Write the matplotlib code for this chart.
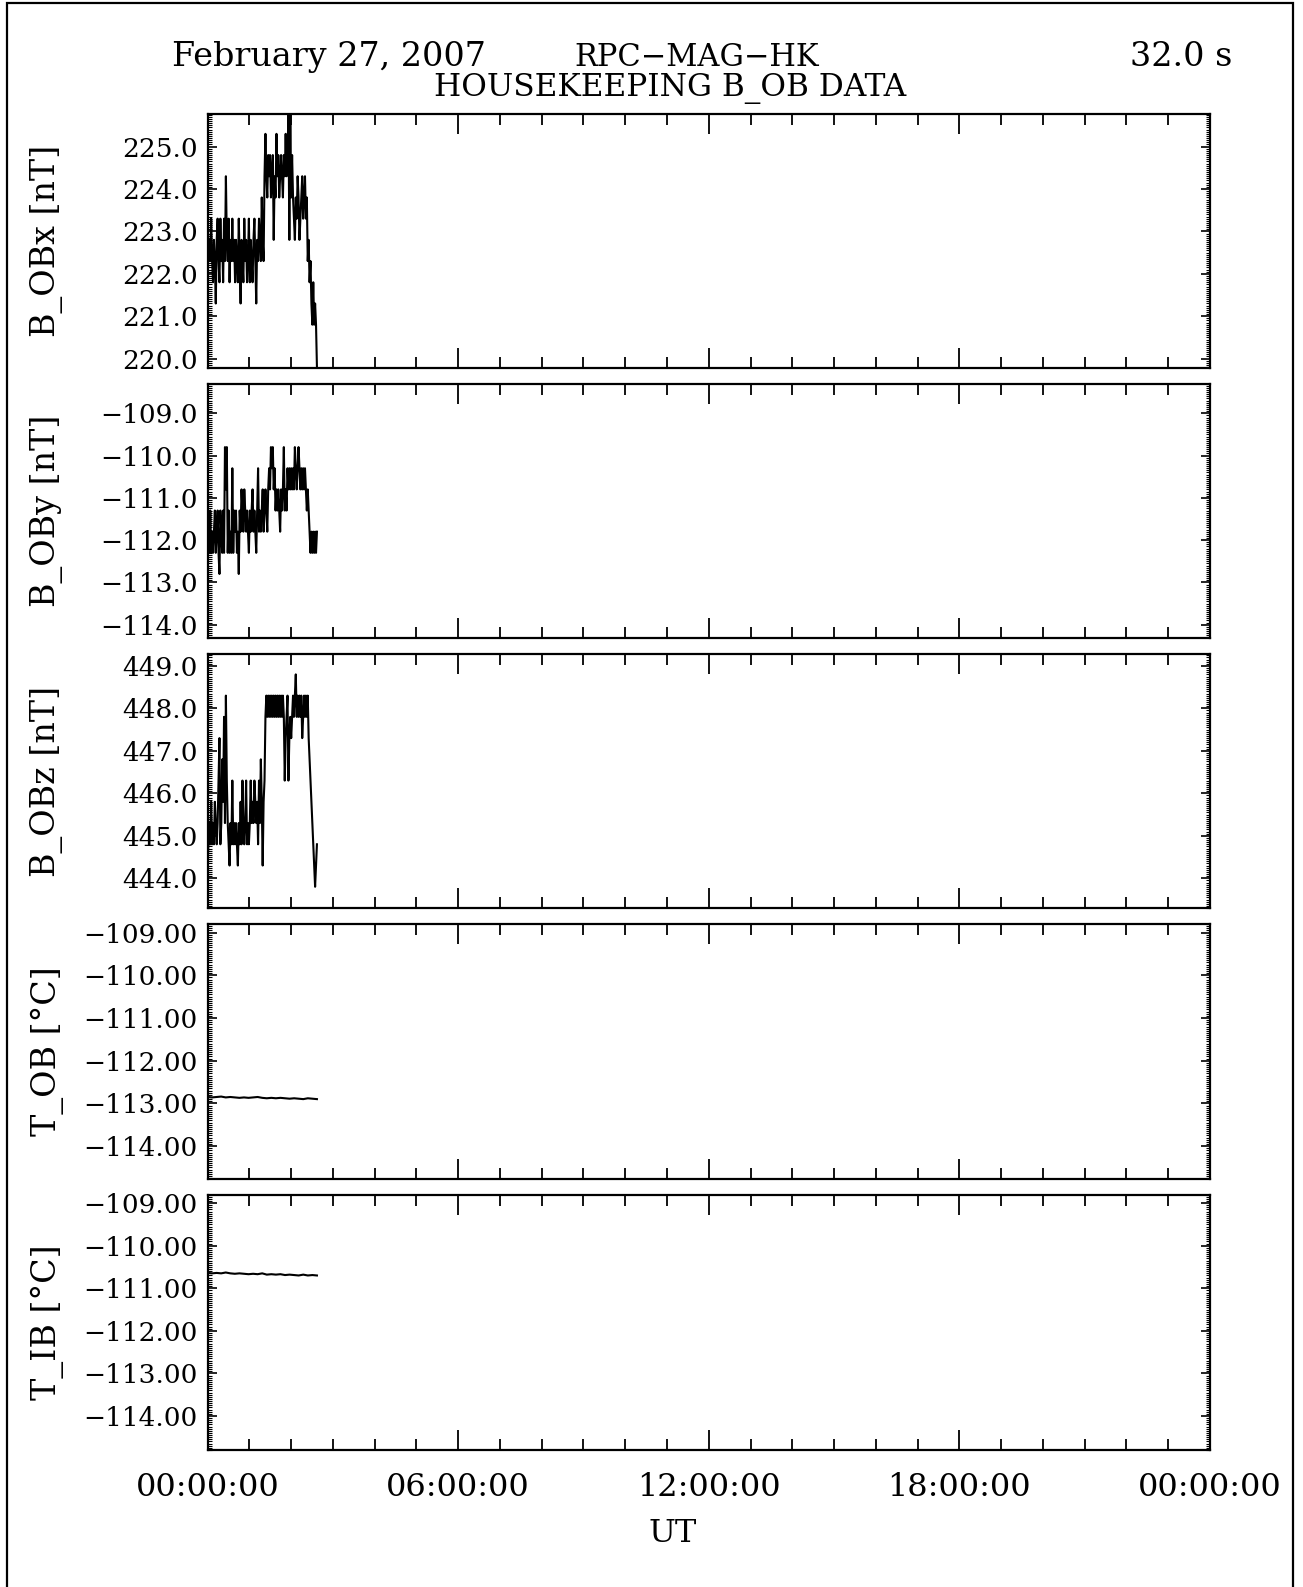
"""
RPC-MAG housekeeping plot: B_OB field components and sensor temperatures.
"""

import numpy as np
import matplotlib.pyplot as plt
from matplotlib.ticker import MultipleLocator, FixedLocator, FuncFormatter
from matplotlib.patches import Rectangle

plt.rcParams['font.family'] = ['DejaVu Serif', 'DejaVu Sans']

# hours after 00:00 UT where the data stops
END_HOUR = 2.62

# B_OBx [nT]
B_OBX = [
    223.8, 222.3, 222.8, 222.3, 223.3, 222.3, 221.8, 222.8, 222.3, 221.3,
    222.8, 223.3, 222.3, 221.8, 223.3, 222.3, 222.8, 221.8, 223.3, 222.3,
    224.3, 222.8, 222.3, 223.3, 221.8, 222.8, 222.3, 223.3, 222.3, 222.8,
    221.8, 222.8, 222.3, 221.8, 223.3, 222.3, 221.3, 222.8, 222.3, 221.8,
    223.3, 222.3, 222.8, 221.8, 222.3, 223.3, 221.8, 222.8, 222.3, 221.8,
    222.8, 223.3, 222.3, 221.3, 222.8, 222.3, 223.3, 222.8, 222.3, 223.8,
    222.8, 222.3, 224.3, 225.3, 224.3, 223.8, 224.8, 224.3, 224.8, 223.8,
    224.3, 224.8, 222.8, 224.3, 223.8, 225.3, 224.3, 224.8, 223.8, 224.3,
    224.8, 224.3, 223.8, 224.8, 224.3, 225.3, 224.3, 224.8, 225.8, 222.8,
    225.8, 223.8, 224.8, 223.8, 223.3, 222.8, 223.8, 223.3, 224.3, 223.8,
    222.8, 223.3, 223.8, 224.3, 223.3, 223.8, 224.3, 223.3, 223.8, 222.3,
    222.8, 221.8, 222.3, 221.3, 220.8, 221.8, 220.8, 221.3, 220.8, 219.8,
]

# B_OBy [nT]
B_OBY = [
    -112.3, -111.8, -112.3, -111.3, -112.3, -111.8, -112.3, -111.8, -111.3, -112.3,
    -111.8, -111.3, -112.3, -112.8, -111.3, -111.8, -112.3, -111.3, -112.3, -109.8,
    -110.8, -109.8, -112.3, -111.3, -112.3, -111.8, -112.3, -110.3, -112.3, -111.3,
    -111.8, -111.3, -112.3, -111.8, -112.8, -111.3, -111.8, -110.8, -111.3, -111.8,
    -110.8, -111.3, -111.8, -111.3, -111.8, -112.3, -111.3, -111.8, -111.3, -110.8,
    -111.8, -111.3, -111.8, -112.3, -111.3, -110.3, -111.8, -111.3, -111.8, -111.3,
    -110.8, -111.8, -111.3, -110.8, -111.3, -111.8, -110.8, -110.3, -110.8, -109.8,
    -110.3, -109.8, -110.8, -110.3, -111.3, -110.8, -111.3, -110.8, -111.3, -111.8,
    -110.8, -111.3, -110.8, -109.8, -111.3, -110.8, -111.3, -110.3, -110.8, -110.3,
    -110.8, -110.3, -110.8, -110.3, -110.8, -109.8, -110.3, -110.8, -110.3, -109.8,
    -110.3, -110.8, -110.3, -110.8, -110.3, -110.8, -110.3, -110.8, -111.3, -110.8,
    -111.3, -111.8, -112.3, -111.8, -112.3, -111.8, -112.3, -111.8, -112.3, -111.8,
]

# B_OBz [nT]
B_OBZ = [
    444.3, 444.8, 445.3, 444.8, 445.8, 444.8, 445.3, 444.8, 445.8, 445.3,
    444.8, 445.3, 446.3, 447.3, 444.8, 445.3, 446.8, 445.8, 447.8, 445.3,
    448.3, 446.3, 445.3, 444.8, 444.3, 445.3, 444.8, 446.3, 444.8, 445.3,
    444.8, 445.3, 444.8, 444.3, 445.3, 444.8, 445.8, 444.8, 446.3, 445.3,
    444.8, 445.3, 446.3, 444.8, 445.3, 444.8, 445.3, 446.3, 445.3, 445.8,
    445.3, 446.3, 445.8, 445.3, 445.8, 444.8, 446.3, 445.3, 446.8, 445.8,
    444.3, 445.8, 446.3, 447.8, 448.3, 447.8, 448.3, 447.8, 448.3, 447.8,
    448.3, 447.8, 448.3, 447.8, 448.3, 447.8, 448.3, 447.8, 448.3, 447.8,
    448.3, 447.8, 448.3, 447.8, 446.3, 447.3, 447.8, 448.3, 446.3, 447.3,
    447.8, 447.3, 447.8, 448.3, 447.8, 448.3, 448.8, 447.8, 448.3, 447.8,
    448.3, 447.8, 448.3, 447.3, 447.8, 448.3, 447.8, 448.3, 447.8, 448.3,
    447.3, 446.8, 446.3, 445.8, 445.3, 444.8, 444.3, 443.8, 444.3, 444.8,
]

# sensor temperatures [degC]
T_OB = [
    -112.85, -112.86, -112.85, -112.84, -112.86, -112.85, -112.86, -112.87, -112.86, -112.87,
    -112.86, -112.85, -112.87, -112.88, -112.87, -112.88, -112.87, -112.88, -112.89, -112.88,
    -112.89, -112.90, -112.88, -112.89, -112.90,
]
T_IB = [
    -110.64, -110.65, -110.64, -110.65, -110.63, -110.65, -110.66, -110.65, -110.66, -110.67,
    -110.66, -110.67, -110.65, -110.68, -110.67, -110.68, -110.67, -110.69, -110.68, -110.69,
    -110.70, -110.68, -110.70, -110.69, -110.70,
]

X_TICK_HOURS = [0, 6, 12, 18, 24]
X_TICK_LABELS = ['00:00:00', '06:00:00', '12:00:00', '18:00:00', '00:00:00']

# (values, label, y range, decimals)
PANELS = [
    (B_OBX, 'B_OBx [nT]', (219.79, 225.78), 1),
    (B_OBY, 'B_OBy [nT]', (-114.31, -108.30), 1),
    (B_OBZ, 'B_OBz [nT]', (443.30, 449.28), 1),
    (T_OB, 'T_OB [°C]', (-114.77, -108.80), 2),
    (T_IB, 'T_IB [°C]', (-114.80, -108.80), 2),
]


def tick_fmt(decimals):
    # IDL style labels with a real minus sign
    def f(v, pos):
        s = f'{v:.{decimals}f}'
        return s.replace('-', '\u2212')
    return FuncFormatter(f)


W, H = 1303, 1587
fig = plt.figure(figsize=(W / 100, H / 100), dpi=100)

# frame round the whole page
fig.patches.append(Rectangle((7 / W, -0.01), (1293 - 7) / W, 1.01 - 3 / H,
                             transform=fig.transFigure, fill=False,
                             edgecolor='black', linewidth=1.6))

left, right = 207.5, 1210
panel_px = [(113.5, 367.5), (383.7, 637.8), (654, 908), (924, 1179), (1194.6, 1450)]

for i, (vals, label, ylim, dec) in enumerate(PANELS):
    top, bottom = panel_px[i]
    ax = fig.add_axes([left / W, 1 - bottom / H, (right - left) / W, (bottom - top) / H])
    t = np.linspace(0, END_HOUR, len(vals))
    ax.plot(t, vals, color='black', linewidth=1.5)

    ax.set_xlim(0, 24)
    ax.set_ylim(*ylim)
    ax.xaxis.set_major_locator(FixedLocator(X_TICK_HOURS))
    ax.xaxis.set_minor_locator(MultipleLocator(1))
    ax.yaxis.set_major_locator(MultipleLocator(1.0))
    ax.yaxis.set_minor_locator(MultipleLocator(0.05))
    ax.yaxis.set_major_formatter(tick_fmt(dec))

    ax.tick_params(axis='x', which='major', direction='in', length=14.5, width=1.3,
                   top=True, bottom=True, labelsize=23, pad=16)
    ax.tick_params(axis='x', which='minor', direction='in', length=8, width=1.3,
                   top=True, bottom=True)
    ax.tick_params(axis='y', which='major', direction='in', length=6.5, width=1.2,
                   left=True, right=True, labelsize=19, pad=7)
    ax.tick_params(axis='y', which='minor', direction='in', length=3, width=0.8,
                   left=True, right=True)
    for sp in ax.spines.values():
        sp.set_linewidth(1.6)

    ax.set_ylabel(label, fontsize=24, va='center')
    ax.yaxis.set_label_coords((47 - left) / (right - left), 0.5)

    if i < len(PANELS) - 1:
        ax.set_xticklabels([])
    else:
        ax.set_xticklabels(X_TICK_LABELS)
        ax.set_xlabel('UT', fontsize=23)
        ax.xaxis.label.set_verticalalignment('center')
        ax.xaxis.set_label_coords((673 - left) / (right - left), -(1534 - bottom) / (bottom - top))

# header lines
fig.text(172 / W, 1 - 57 / H, 'February 27, 2007', fontsize=24, ha='left', va='center')
fig.text(574 / W, 1 - 57 / H, 'RPC\u2212MAG\u2212HK', fontsize=22, ha='left', va='center')
fig.text(1232 / W, 1 - 57 / H, '32.0 s', fontsize=24, ha='right', va='center')
fig.text(670 / W, 1 - 88 / H, 'HOUSEKEEPING B_OB DATA', fontsize=22.5, ha='center', va='center')

fig.savefig('out.png', dpi=100, facecolor='white')
